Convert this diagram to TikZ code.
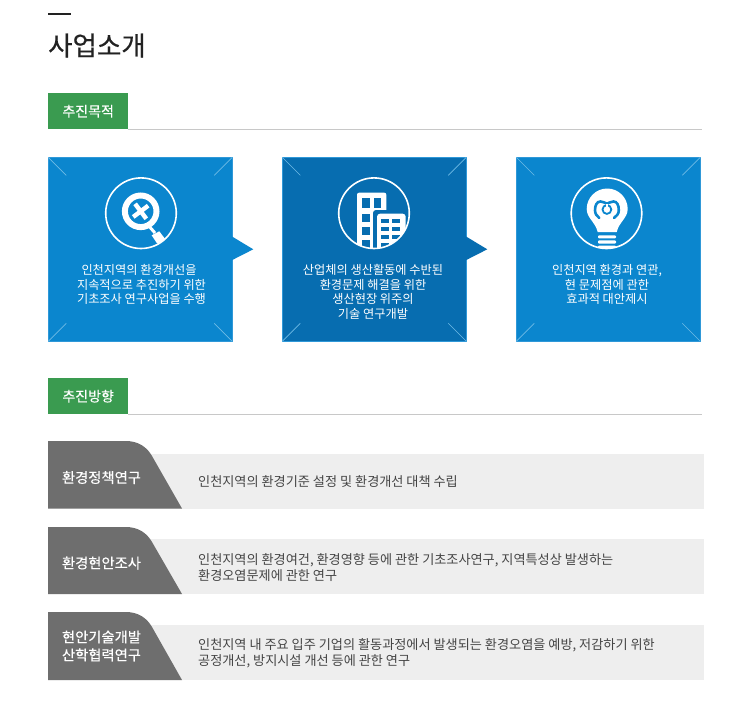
\documentclass[tikz,border=0pt]{standalone}
\usepackage{fontspec}
\setmainfont{Noto Sans CJK KR}
\newfontfamily\semib[FakeBold=0.3]{Noto Sans CJK KR}
\newfontfamily\titlef[FakeBold=0.5]{Noto Sans CJK KR}
\definecolor{bluea}{HTML}{0B86CE}
\definecolor{blueb}{HTML}{076DB0}
\definecolor{edgeb}{HTML}{2F98D8}
\definecolor{tickb}{HTML}{6FBBE6}
\definecolor{tagg}{HTML}{3A9B50}
\definecolor{rule}{HTML}{C8C8C8}
\definecolor{rowbg}{HTML}{EEEEEE}
\definecolor{rowd}{HTML}{6E6E6E}
\definecolor{ink}{HTML}{444444}
\definecolor{titlec}{HTML}{222222}
\tikzset{
  x=1pt,y=-1pt,
  infobox/.style={minimum width=183.4pt,minimum height=183.4pt,inner sep=0pt,draw=edgeb,line width=.6pt,anchor=north west},
  infotext/.style={text=white,align=center,inner sep=0pt,anchor=north,font=\fontsize{12.2}{14.5}\selectfont},
  tick/.style={draw=tickb,line width=.7pt},
  iconring/.style={draw=white,line width=1.6pt},
  tagbox/.style={fill=tagg,minimum width=80pt,minimum height=36pt,inner sep=0pt,anchor=north west,text=white,font=\semib\fontsize{14}{15}\selectfont},
  rowtitle/.style={text=white,align=center,inner sep=0pt,font=\semib\fontsize{14.3}{18}\selectfont},
  rowtext/.style={text=ink,align=left,inner sep=0pt,anchor=west,font=\fontsize{13.15}{15.6}\selectfont},
}
\begin{document}
\begin{tikzpicture}
\useasboundingbox (0,0) rectangle (750,724);
\fill[white] (0,0) rectangle (750,724);
% title
\fill[titlec] (48,13) rectangle (71,15);
\node[inner sep=0pt,anchor=west,text=titlec,font=\titlef\fontsize{26.5}{30}\selectfont] (title) at (48,45.5) {사업소개};
% section 1
\node[tagbox] (tag1) at (48,93) {추진목적};
\coordinate (rule1) at (702,129.5);
\draw[rule,line width=1pt] ([yshift=-.5pt]tag1.south east) -- ([yshift=-.5pt]tag1.south east -| rule1);
% boxes
\node[infobox,fill=bluea] (b1) at (48.3,157.3) {};
\node[infobox,fill=blueb] (b2) at (282.3,157.3) {};
\node[infobox,fill=bluea] (b3) at (516.3,157.3) {};
\fill[bluea] ([xshift=-.6pt,yshift=13pt]b1.east) -- ([xshift=21pt]b1.east) -- ([xshift=-.6pt,yshift=-11pt]b1.east) -- cycle;
\fill[blueb] ([xshift=-.6pt,yshift=13pt]b2.east) -- ([xshift=21pt]b2.east) -- ([xshift=-.6pt,yshift=-11pt]b2.east) -- cycle;
\foreach \b in {b1,b2,b3}{
  \draw[tick] (\b.north west) -- ++(18,18);
  \draw[tick] (\b.north east) -- ++(-18,18);
  \draw[tick] (\b.south west) -- ++(18,-18);
  \draw[tick] (\b.south east) -- ++(-18,-18);
}
% icon 1: magnifier
\begin{scope}
\clip (141,213.2) circle (35);
\draw[white,line width=3pt] (148.3,225.3) -- (155,233);
\fill[white] (151.7,235.3) -- (159.3,231.3) -- (165.7,239.7) -- (157.3,243.7) -- cycle;
\end{scope}
\draw[white,line width=6pt] (140.7,211.3) circle (15.8);
\begin{scope}[shift={(140.7,211.3)},rotate=-8]
\draw[white,line width=4.4pt] (-6.6,-6.6) -- (6.6,6.6);
\draw[white,line width=4.4pt] (-6.6,6.6) -- (6.6,-6.6);
\end{scope}
\draw[iconring] (141,213.2) circle (35.3);
\node[circle,minimum size=71pt,inner sep=0pt] (ic1) at (141,213.2) {};
% icon 2: buildings
\begin{scope}
\clip (374,213.2) circle (35);
\fill[white,rounded corners=2pt] (357,192.7) rectangle (386.3,255);
\foreach \yy/\hh in {198/10,213.7/8.3,227/8.3,240.3/8}{
  \fill[blueb] (362.3,\yy) rectangle (369.7,{\yy+\hh});
}
\fill[blueb] (373.7,198) rectangle (380.7,208);
\fill[blueb,rounded corners=3pt] (373,210) rectangle (410,255);
\fill[white,rounded corners=3pt] (377,213.7) rectangle (405.7,255);
\foreach \yy in {218.7,227,234.9,242.7}{
  \fill[blueb] (381.3,\yy) rectangle (388.7,{\yy+4.3});
  \fill[blueb] (392.3,\yy) rectangle (399.7,{\yy+4.3});
}
\end{scope}
\draw[iconring] (374,213.2) circle (35.3);
\node[circle,minimum size=71pt,inner sep=0pt] (ic2) at (374,213.2) {};
% icon 3: bulb
\begin{scope}
\clip (606.5,213.2) circle (35);
\fill[white] (607.2,188.5) .. controls (618.5,188.5) and (627.7,197.7) .. (627.7,209)
  .. controls (627.7,218) and (619,222) .. (616.7,232) -- (597.7,232)
  .. controls (595.4,222) and (586.7,218) .. (586.7,209)
  .. controls (586.7,197.7) and (595.9,188.5) .. (607.2,188.5) -- cycle;
\fill[white,rounded corners=1pt] (598,235.3) rectangle (616,238.3);
\fill[white,rounded corners=1pt] (598,240.3) rectangle (616,243.7);
\fill[white,rounded corners=1pt] (598,245.5) rectangle (616,252);
\draw[bluea,line width=2.6pt,line cap=round] (599.3,218) .. controls (597,216) and (595,214) .. (595,210.3) .. controls (595,205) and (597,201.5) .. (600.5,201.5) .. controls (603,201.5) and (605,203) .. (606.9,203.7) .. controls (609,203) and (611,201.5) .. (613.5,201.5) .. controls (617,201.5) and (618.8,205) .. (618.8,210.3) .. controls (618.8,214) and (616.5,216) .. (614,218);
\draw[bluea,line width=1.8pt] (606.9,209.5) circle (4.4);
\fill[white] (605.7,204) rectangle (608.1,210);
\end{scope}
\draw[iconring] (606.5,213.2) circle (35.3);
\node[circle,minimum size=71pt,inner sep=0pt] (ic3) at (606.5,213.2) {};
% box texts
\node[infotext] (t1) at (141.5,264.5) {인천지역의 환경개선을\hspace*{5pt}\\지속적으로 추진하기 위한\\기초조사 연구사업을 수행};
\node[infotext] (t2) at (373,264.5) {산업체의 생산활동에 수반된\\환경문제 해결을 위한\\생산현장 위주의\\기술 연구개발};
\node[infotext] (t3) at (607,264.5) {인천지역 환경과 연관,\\현 문제점에 관한\\효과적 대안제시};
% section 2
\node[tagbox] (tag2) at (48,378) {추진방향};
\coordinate (rule2) at (702,414);
\draw[rule,line width=1pt] ([yshift=-.5pt]tag2.south east) -- ([yshift=-.5pt]tag2.south east -| rule2);
% rows
\foreach \top/\bg/\bot in {441/453.5/508.5,527/539/594,612/624.5/680}{
  \fill[rowbg] (140,\bg) rectangle (704,\bot);
  \fill[rowd] (48,\top) -- (126,\top) .. controls (138,\top) and (147,{\top+6}) .. (152,{\top+15}) -- (182,\bot) -- (48,\bot) -- cycle;
}
\node[rowtitle] (h1) at (101.5,477.5) {환경정책연구};
\node[rowtitle] (h2) at (101.5,563) {환경현안조사};
\node[rowtitle] (h3) at (101.5,646) {현안기술개발\\산학협력연구};
\node[rowtext] (r1) at (198,481.8) {인천지역의 환경기준 설정 및 환경개선 대책 수립};
\node[rowtext] (r2) at (198,567.3) {인천지역의 환경여건, 환경영향 등에 관한 기초조사연구, 지역특성상 발생하는\\환경오염문제에 관한 연구};
\node[rowtext] (r3) at (198,653) {인천지역 내 주요 입주 기업의 활동과정에서 발생되는 환경오염을 예방, 저감하기 위한\\공정개선, 방지시설 개선 등에 관한 연구};
\end{tikzpicture}
\end{document}
